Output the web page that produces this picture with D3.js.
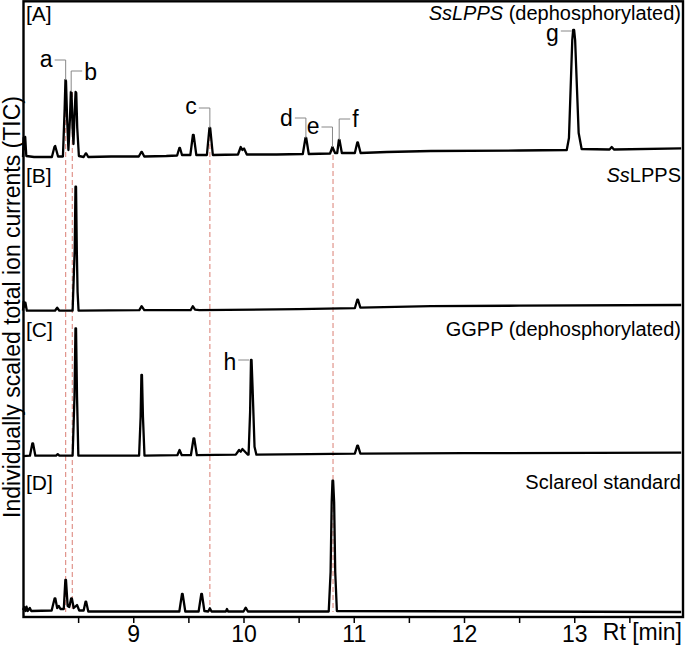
<!DOCTYPE html>
<html>
<head>
<meta charset="utf-8">
<script src="https://cdn.jsdelivr.net/npm/d3@7/dist/d3.min.js"></script>
<style>
  body { margin: 0; background: #fff; }
  svg { display: block; font-family: "Liberation Sans", Arial, sans-serif; }
</style>
</head>
<body>
<script>
// [retention time (min), intensity (individually scaled)]
const traceA = [
  [8.000, 1], [8.006, 20], [8.013, 9], [8.020, 21], [8.030, 2], [8.10, 1],
  [8.262, 1], [8.285, 11], [8.292, 12], [8.318, 1.5],
  [8.362, 1.5], [8.378, 50], [8.385, 78], [8.390, 77], [8.400, 40], [8.412, 8],
  [8.426, 40], [8.434, 66], [8.440, 65], [8.450, 30], [8.458, 14],
  [8.468, 45], [8.477, 66], [8.483, 65], [8.492, 30], [8.507, 2],
  [8.550, 1], [8.568, 4.5], [8.574, 4.5], [8.592, 1],
  [8.80, 1.5], [9.050, 1.5], [9.073, 6], [9.079, 6], [9.100, 1.5],
  [9.30, 2], [9.398, 2.5], [9.418, 10], [9.424, 10], [9.442, 3],
  [9.518, 3], [9.541, 23], [9.548, 23], [9.572, 3],
  [9.668, 3], [9.691, 30], [9.698, 30], [9.722, 3],
  [9.950, 3.5], [9.975, 11], [9.990, 8], [10.005, 9.5], [10.030, 3.5],
  [10.30, 3.5], [10.538, 4], [10.562, 20], [10.569, 20], [10.592, 4],
  [10.785, 4.5], [10.807, 11], [10.830, 5], [10.850, 5], [10.865, 18], [10.871, 18], [10.892, 5],
  [11.010, 5], [11.032, 15.5], [11.038, 15.5], [11.062, 5],
  [11.30, 6], [11.70, 7], [12.50, 7.5],
  [12.932, 8], [12.952, 20], [12.982, 118], [12.990, 128], [12.999, 128], [13.008, 118], [13.040, 25], [13.067, 9],
  [13.320, 8.5], [13.340, 11], [13.360, 8.5], [13.970, 9.7]
];
const traceB = [
  [8.000, 1], [8.006, 10], [8.014, 5], [8.022, 9], [8.035, 1],
  [8.290, 1], [8.310, 4], [8.330, 1],
  [8.450, 1], [8.462, 40], [8.469, 62], [8.476, 125], [8.481, 125], [8.488, 62], [8.495, 20], [8.504, 1],
  [9.055, 1.5], [9.076, 5.5], [9.100, 1.5],
  [9.520, 1.5], [9.540, 5.5], [9.560, 2], [9.600, 1.5],
  [10.50, 2.5], [11.010, 3.5], [11.032, 12], [11.038, 12], [11.060, 4],
  [11.70, 5.5], [12.50, 6], [13.970, 6.7]
];
const traceC = [
  [8.000, 0.5], [8.063, 1], [8.085, 13.4], [8.091, 13.4], [8.112, 1],
  [8.300, 1], [8.315, 2.5], [8.330, 1],
  [8.450, 1], [8.467, 60], [8.476, 128.4], [8.481, 128.4], [8.490, 60], [8.502, 1],
  [9.053, 1], [9.067, 40], [9.074, 81.7], [9.079, 81.7], [9.088, 40], [9.102, 1],
  [9.400, 1.5], [9.420, 6.7], [9.440, 1.5],
  [9.523, 1.5], [9.547, 18.4], [9.553, 18.4], [9.577, 1.5],
  [9.930, 2], [9.960, 6.7], [9.975, 5], [9.990, 7.7], [10.040, 2],
  [10.046, 2], [10.060, 45], [10.068, 96.7], [10.073, 96.7], [10.082, 70], [10.100, 10], [10.117, 2],
  [10.60, 2.5], [11.010, 3], [11.032, 11], [11.038, 11], [11.060, 3], [12.00, 3.5], [13.970, 4]
];
const traceD = [
  [8.000, 2], [8.012, 5], [8.022, 1], [8.032, 5.3], [8.042, 1], [8.062, 4], [8.075, 1],
  [8.260, 1.5], [8.287, 13.7], [8.293, 13.7], [8.310, 4], [8.325, 6], [8.340, 3],
  [8.370, 3], [8.384, 32], [8.390, 32], [8.405, 6], [8.420, 5], [8.437, 13.7], [8.443, 13.7], [8.460, 4], [8.490, 7], [8.510, 1.5],
  [8.550, 1.5], [8.567, 10.3], [8.573, 10.3], [8.592, 0.5],
  [9.418, 0.5], [9.442, 18], [9.448, 18], [9.472, 0.5],
  [9.593, 0.5], [9.617, 18], [9.623, 18], [9.645, 1], [9.680, 0.5], [9.695, 3.7], [9.710, 0.5],
  [9.840, 0.5], [9.850, 3], [9.860, 0.5],
  [10.000, 0.5], [10.020, 4.3], [10.040, 0.5],
  [10.773, 0.5], [10.790, 40], [10.800, 110], [10.807, 131.3], [10.813, 131.3], [10.822, 110], [10.832, 40], [10.847, 1],
  [13.970, 0]
];
const traces = [traceA, traceB, traceC, traceD];

const panelNames = ['[A]', '[B]', '[C]', '[D]'];
// title pieces: [text, italic]
const panelTitles = [
  [['SsLPPS', true], [' (dephosphorylated)', false]],
  [['Ss', true], ['LPPS', false]],
  [['GGPP (dephosphorylated)', false]],
  [['Sclareol standard', false]]
];

// labelled peaks
const peakNames = ['a', 'b', 'c', 'd', 'e', 'f', 'g', 'h'];
const peakRt = [8.387, 8.437, 9.695, 10.566, 10.807, 10.868, 12.978, 10.052];
const peakHeight = [78, 66, 30, 20, 11, 18, 127, 96.7];
const peakPanel = [0, 0, 0, 0, 0, 0, 0, 2];

// dashed guide lines (retention times) and where they start in panel A
const guideRt = [8.387, 8.447, 9.695, 10.812];
const guideTop = [78, 66, 30, 11];

const xTicks = [8.5, 9, 9.5, 10, 10.5, 11, 11.5, 12, 12.5, 13, 13.5];

// ---- layout ----
const width = 685, height = 646;
const frameL = 23.5, frameR = 683, frameT = 1.3, frameB = 617;
const panelBase = [158, 311.7, 456.7, 612];
const labelBase = [21, 183, 337, 490];
const leaderSide = [-1, 1, -1, -1, -1, 1, -1, -1];
const leaderRise = [20, 21, 20, 20, 20, 21, 0, 0];
const letterDy = [7, 9, 6, 8, 7, 8, 10, 10];

const svg = d3.select('body').append('svg')
  .attr('width', width)
  .attr('height', height);

const x = d3.scaleLinear().domain([8, 14]).range([23, 684.5]);
const yScales = panelBase.map(b => d3.scaleLinear().domain([0, 130]).range([b, b - 130]));

// dashed guides
svg.append('g').selectAll('line')
  .data(guideRt)
  .enter().append('line')
  .attr('x1', d => x(d)).attr('x2', d => x(d))
  .attr('y1', (d, i) => yScales[0](guideTop[i]))
  .attr('y2', panelBase[3])
  .attr('stroke', '#de8a80')
  .attr('stroke-width', 1.1)
  .attr('stroke-dasharray', '5,3');

// traces
const line = (i) => d3.line().x(d => x(d[0])).y(d => yScales[i](d[1]));
svg.append('g').selectAll('path')
  .data(traces)
  .enter().append('path')
  .attr('d', (d, i) => line(i)(d))
  .attr('fill', 'none')
  .attr('stroke', '#000')
  .attr('stroke-width', 2.3)
  .attr('stroke-linejoin', 'round');

// peak letters with leaders
const lg = svg.append('g');
peakNames.forEach((n, i) => {
  const px = x(peakRt[i]);
  const py = yScales[peakPanel[i]](peakHeight[i]);
  const ly = py - leaderRise[i];
  const ex = px + leaderSide[i] * 11;
  lg.append('path')
    .attr('d', 'M' + px + ',' + py + 'L' + px + ',' + ly + 'L' + ex + ',' + ly)
    .attr('fill', 'none')
    .attr('stroke', '#888')
    .attr('stroke-width', 1);
  lg.append('text')
    .attr('x', ex + leaderSide[i] * 2)
    .attr('y', ly + letterDy[i])
    .attr('text-anchor', leaderSide[i] < 0 ? 'end' : 'start')
    .attr('font-size', 23)
    .text(n);
});

// panel names and titles
panelNames.forEach((n, i) => {
  svg.append('text')
    .attr('x', 26).attr('y', labelBase[i])
    .attr('font-size', 21)
    .text(n);
  const t = svg.append('text')
    .attr('x', 681).attr('y', labelBase[i] - 1)
    .attr('text-anchor', 'end')
    .attr('font-size', 20);
  panelTitles[i].forEach(p => {
    t.append('tspan')
      .attr('font-style', p[1] ? 'italic' : 'normal')
      .text(p[0]);
  });
});

// x axis
const axis = svg.append('g')
  .attr('transform', 'translate(0,' + frameB + ')')
  .call(d3.axisBottom(x)
    .tickValues(xTicks)
    .tickSize(6)
    .tickSizeOuter(0)
    .tickPadding(3)
    .tickFormat(d => Number.isInteger(d) ? d : ''));
axis.select('.domain').remove();
axis.selectAll('.tick line').attr('stroke-width', 1.5);
axis.selectAll('.tick text')
  .attr('font-size', 23)
  .attr('font-family', '"Liberation Sans", Arial, sans-serif');

// frame
svg.append('rect')
  .attr('x', frameL).attr('y', frameT)
  .attr('width', frameR - frameL).attr('height', frameB - frameT)
  .attr('fill', 'none')
  .attr('stroke', '#000')
  .attr('stroke-width', 2.4);

svg.append('text')
  .attr('x', 682).attr('y', 640)
  .attr('text-anchor', 'end')
  .attr('font-size', 23)
  .text('Rt [min]');

svg.append('text')
  .attr('transform', 'translate(20,307) rotate(-90)')
  .attr('text-anchor', 'middle')
  .attr('font-size', 23)
  .text('Individually scaled total ion currents (TIC)');
</script>
</body>
</html>
